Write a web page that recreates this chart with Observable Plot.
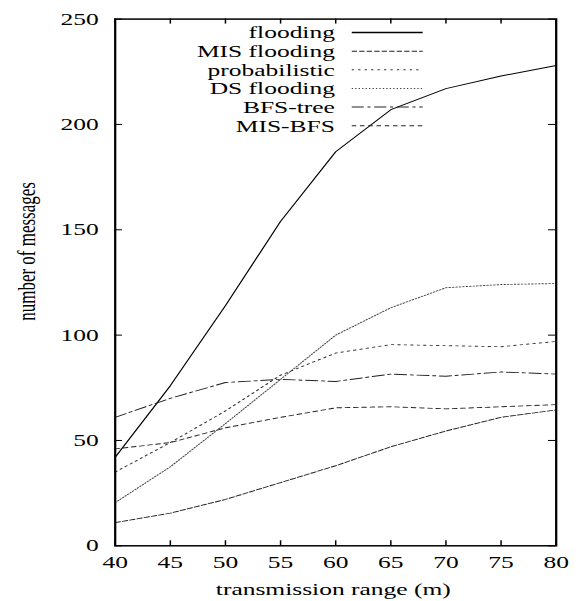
<!DOCTYPE html>
<html><head><meta charset="utf-8">
<script src="https://cdn.jsdelivr.net/npm/d3@7"></script>
<script src="https://cdn.jsdelivr.net/npm/@observablehq/plot@0.6"></script>
<style>
html,body{margin:0;padding:0;background:#fff;}
#chart{width:579px;height:601px;overflow:hidden;}
#chart svg{transform:scaleX(1.5);transform-origin:0 0;display:block;}
</style></head><body><div id="chart"></div>
<script>
// data
const ranges = [40, 45, 50, 55, 60, 65, 70, 75, 80];
const seriesNames = ["flooding", "MIS flooding", "probabilistic", "DS flooding", "BFS-tree", "MIS-BFS"];
const flooding      = [42, 76, 114, 154, 187, 207, 217, 223, 228];
const misFlooding   = [11, 15.5, 22, 30, 38, 47, 54.5, 61, 64.5];
const probabilistic = [35, 49, 64, 81, 91.5, 95.5, 95, 94.5, 97];
const dsFlooding    = [20.5, 37.5, 58, 79, 100, 113, 122.5, 124, 124.5];
const bfsTree       = [61, 70, 77.5, 79, 78, 81.5, 80.5, 82.5, 81.5];
const misBfs        = [46, 49, 56, 61, 65.5, 66, 65, 66, 67];
const xTicks = [40, 45, 50, 55, 60, 65, 70, 75, 80];
const yTicks = [0, 50, 100, 150, 200, 250];
const xLabel = "transmission range (m)";
const yLabel = "number of messages";

const seriesValues = [flooding, misFlooding, probabilistic, dsFlooding, bfsTree, misBfs];
const dashes = [null, "3.5,1.5", "1.5,2.8", "0.9,1.4", "8,2.5,2,2.5", "3,2.5"];
const colors = ["#000", "#222", "#333", "#444", "#222", "#222"];
const rows = seriesNames.flatMap((name, i) => ranges.map((r, j) => ({series: name, range: r, messages: seriesValues[i][j]})));

const W = 386, H = 601;
const mL = 76.3, mR = 15.7, mT = 18.6, mB = 55.7;
const pw = W - mL - mR, ph = H - mT - mB;
const tick = 5;
const font = "'Liberation Serif', 'Times New Roman', serif";

const plot = Plot.plot({
  width: W, height: H,
  marginLeft: mL, marginRight: mR, marginTop: mT, marginBottom: mB,
  style: {fontFamily: font, fontSize: "17px", color: "#000", background: "#fff"},
  x: {domain: [40, 80]},
  y: {domain: [0, 250]},
  marks: [
    ...seriesNames.map((name, i) => Plot.line(rows.filter(d => d.series === name), {
      x: "range", y: "messages", stroke: colors[i], strokeWidth: 0.9,
      strokeDasharray: dashes[i] ?? undefined
    })),
    Plot.tickY(yTicks, {y: d => d, insetRight: pw - tick, stroke: "#000"}),
    Plot.tickY(yTicks, {y: d => d, insetLeft: pw - tick, stroke: "#000"}),
    Plot.tickX(xTicks, {x: d => d, insetTop: ph - tick, stroke: "#000"}),
    Plot.tickX(xTicks, {x: d => d, insetBottom: ph - tick, stroke: "#000"}),
    Plot.axisX({ticks: xTicks, tickSize: 0, tickPadding: 10, label: null, fontSize: 17, tickFormat: d => d}),
    Plot.axisY({ticks: yTicks, tickSize: 0, tickPadding: 11, label: null, fontSize: 17, tickFormat: d => d}),
    Plot.frame({stroke: "#000", strokeWidth: 1.5}),
    Plot.text([yLabel], {frameAnchor: "left", text: d => d, rotate: -90, dx: -58.8, dy: -31, fontSize: 17, textAnchor: "middle", lineAnchor: "middle"}),
    Plot.text([xLabel], {frameAnchor: "bottom", text: d => d, dx: -1.6, dy: 44, fontSize: 17, textAnchor: "middle", lineAnchor: "middle"})
  ]
});

// legend inside the plot, top right
const svg = d3.select(plot);
const lg = svg.append("g").attr("font-family", font).attr("font-size", 17);
seriesNames.forEach((name, i) => {
  const y = 32.5 + i * 18.65;
  lg.append("text").attr("x", 223.3).attr("y", y).attr("dy", "0.35em")
    .attr("text-anchor", "end").attr("fill", "#000").text(name);
  lg.append("line").attr("x1", 234.5).attr("x2", 281.8).attr("y1", y).attr("y2", y)
    .attr("stroke", colors[i]).attr("stroke-width", i === 0 ? 1.3 : 1)
    .attr("stroke-dasharray", dashes[i]);
});

document.getElementById("chart").appendChild(plot);
</script>
</body></html>
